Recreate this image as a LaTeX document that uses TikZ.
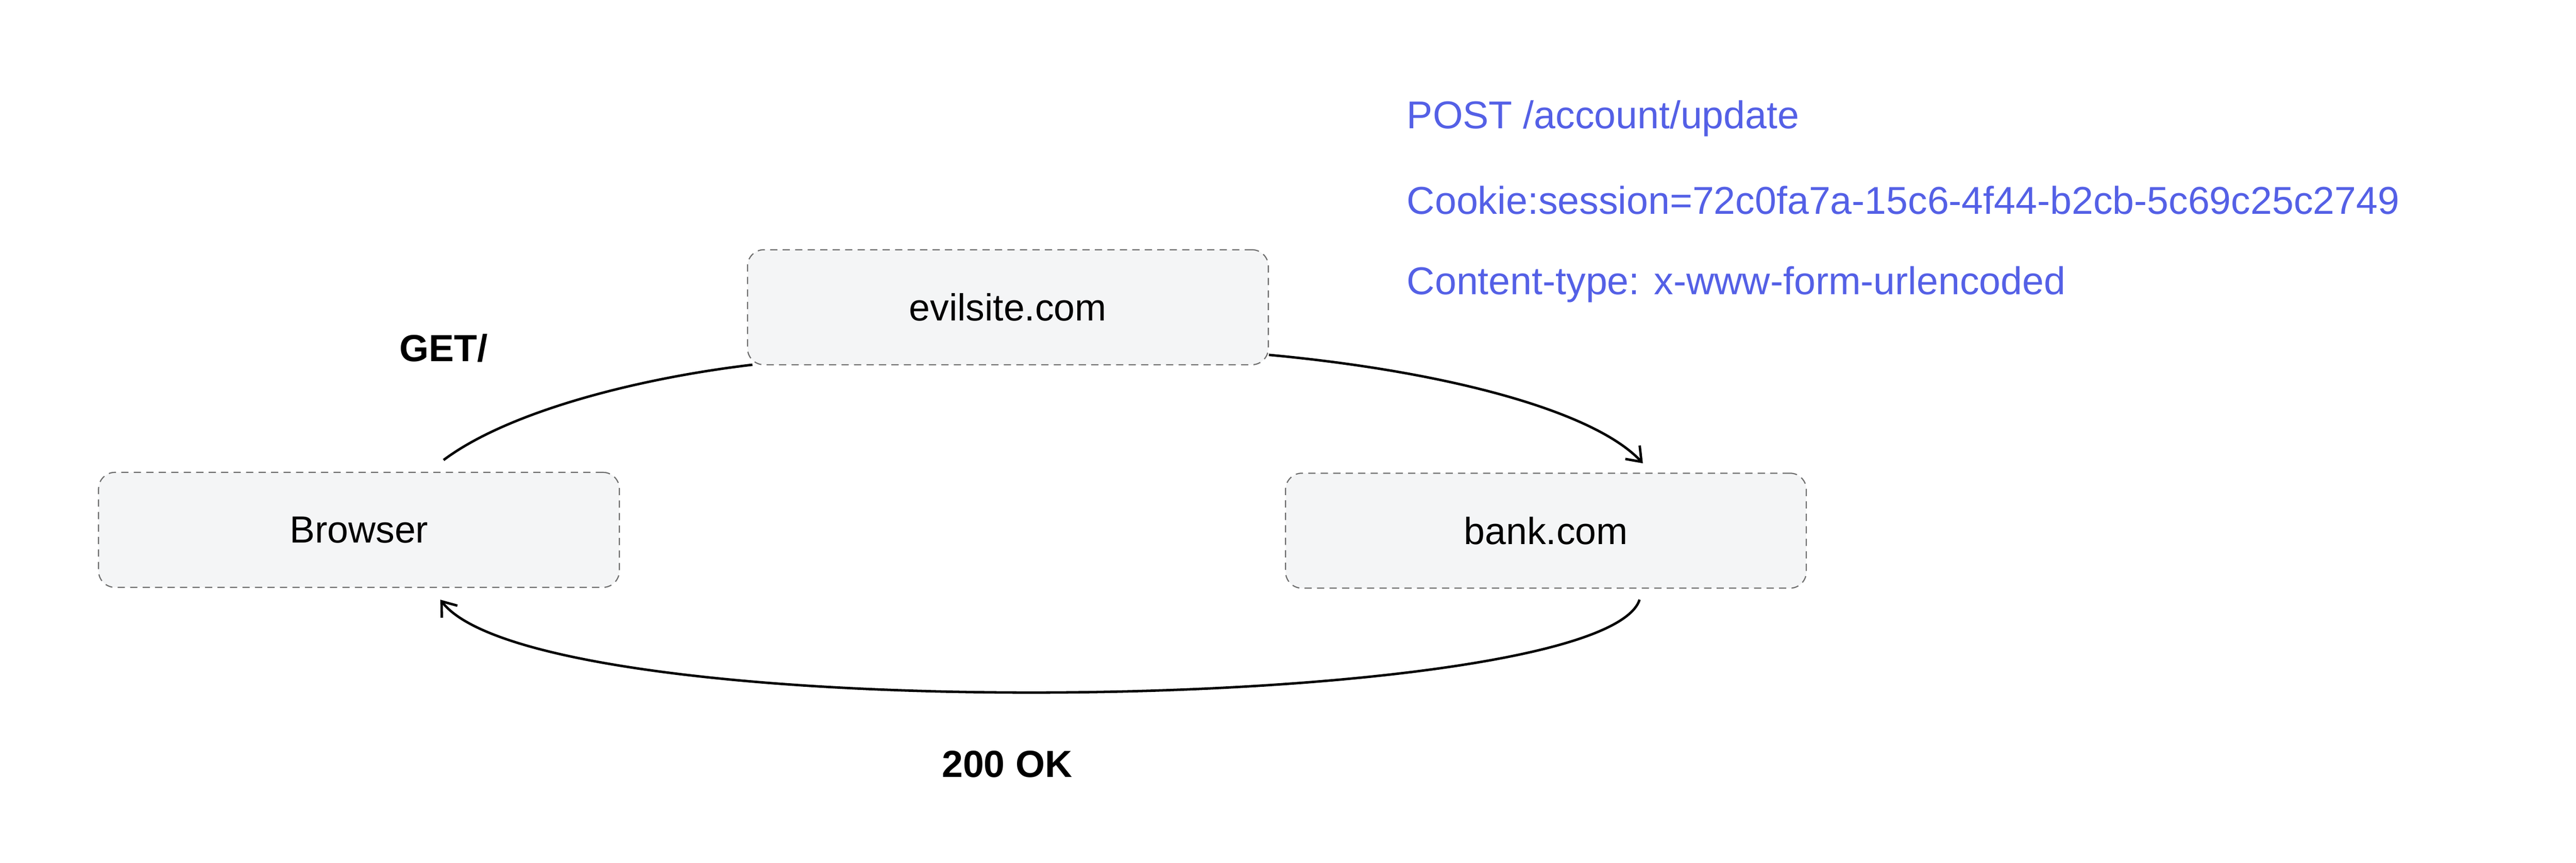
\documentclass[tikz,border=0pt]{standalone}
\usepackage{fontspec}
\setmainfont{Liberation Sans}
\usetikzlibrary{arrows.meta, positioning}
\definecolor{boxfill}{RGB}{244,245,246}
\definecolor{boxline}{RGB}{110,110,110}
\definecolor{reqblue}{RGB}{84,96,230}
\tikzset{
  hostbox/.style={draw=boxline, dashed, dash pattern=on 2.2pt off 1.6pt, line width=0.35pt, fill=boxfill,
    rounded corners=5pt, minimum width=158.5pt, minimum height=35pt, font=\fontsize{11.5}{13}\selectfont},
  flow/.style={line width=0.75pt, -{Straight Barb[length=4pt,width=6pt]}},
  reqline/.style={anchor=west, text=reqblue, inner sep=0pt, font=\fontsize{11.8}{14}\selectfont},
  flowlabel/.style={font=\bfseries\fontsize{11.5}{13}\selectfont, inner sep=0pt}
}
\begin{document}
\begin{tikzpicture}[x=0.5pt,y=-0.5pt]
\useasboundingbox (0,0) rectangle (1568,525);

% hosts
\node[hostbox] (browser) at (218.5,322.5) {Browser};
\node[hostbox] (evil) at (613.5,187) {evilsite.com};
\node[hostbox] (bank) at (941,323) {bank.com};

% connector ends
\coordinate (getstart) at (270,280);
\coordinate (getend) at (458,222);
\coordinate (postend) at (1000,282);
\coordinate (okstart) at (998,365);
\coordinate (okend) at (268,365);

% flows
\draw[line width=0.75pt] (getstart) .. controls (310,250) and (390,230) .. (getend);
\draw[flow] (evil.east |- 0,216) .. controls (880,226) and (970,250) .. (postend);
\draw[flow] (okstart) .. controls (975,435) and (330,445) .. (okend);

% labels
\node[flowlabel] (getlbl) at (270,212) {GET/};
\node[flowlabel] (oklbl) at (613,465) {200 OK};

% forged request
\node[reqline] (req1) at (856,72) {POST /account/update};
\node[reqline] (req2) at (856,122) {Cookie:session=72c0fa7a-15c6-4f44-b2cb-5c69c25c2749};
\node[reqline] (req3) at (856,173) {Content-type: x-www-form-urlencoded};
\end{tikzpicture}
\end{document}
